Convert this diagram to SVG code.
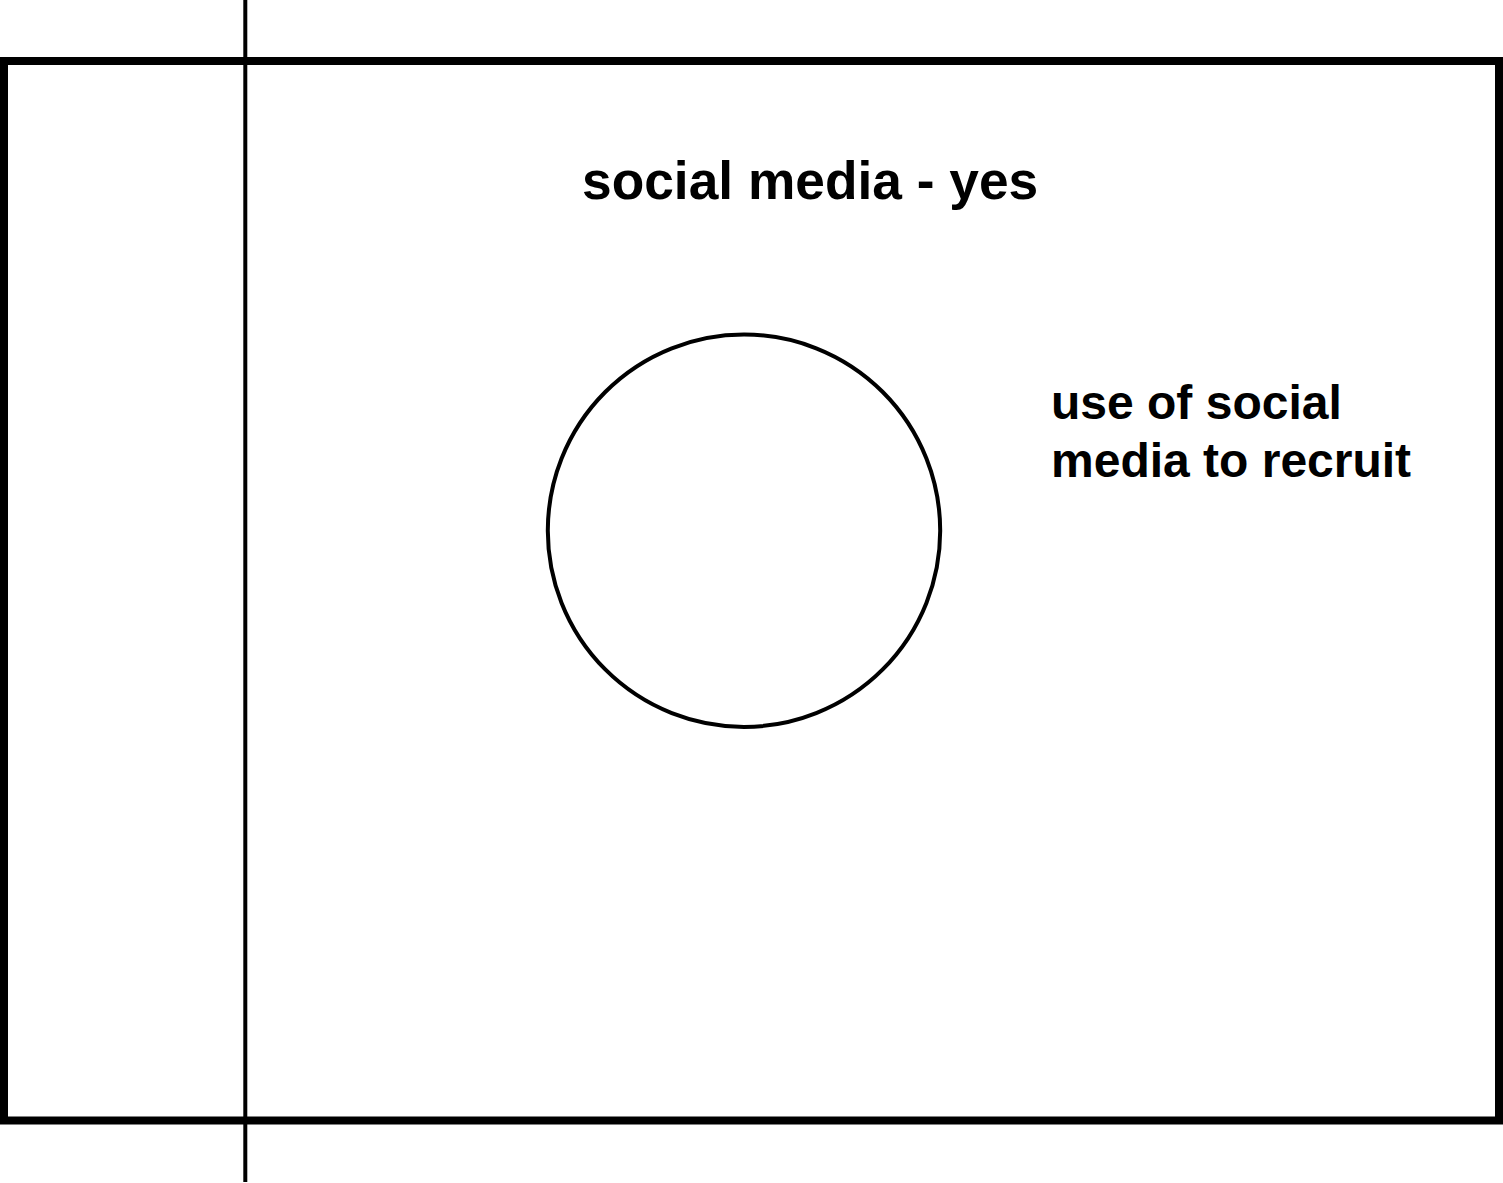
<svg xmlns="http://www.w3.org/2000/svg" width="1503" height="1183" viewBox="0 0 1503 1183">
<style>
.t{font-family:"Liberation Sans",Arial,sans-serif;font-weight:bold;fill:#000}
</style>
<rect x="0" y="0" width="1503" height="1183" fill="#fff"/>
<g id="frame"><rect x="4" y="61" width="1495" height="1059.5" fill="none" stroke="#000" stroke-width="8"/></g>
<g id="axis"><line x1="245.3" y1="0" x2="245.3" y2="1182" stroke="#000" stroke-width="4"/></g>
<g id="circle"><circle cx="744" cy="530.7" r="196.2" fill="none" stroke="#000" stroke-width="4"/></g>
<g id="title"><text class="t" x="582" y="199" font-size="53.3">social media - yes</text></g>
<g id="label"><text class="t" x="1051" y="418.5" font-size="48">use of social</text><text class="t" x="1051" y="477" font-size="48">media to recruit</text></g>
<g id="connectors"/>
</svg>
